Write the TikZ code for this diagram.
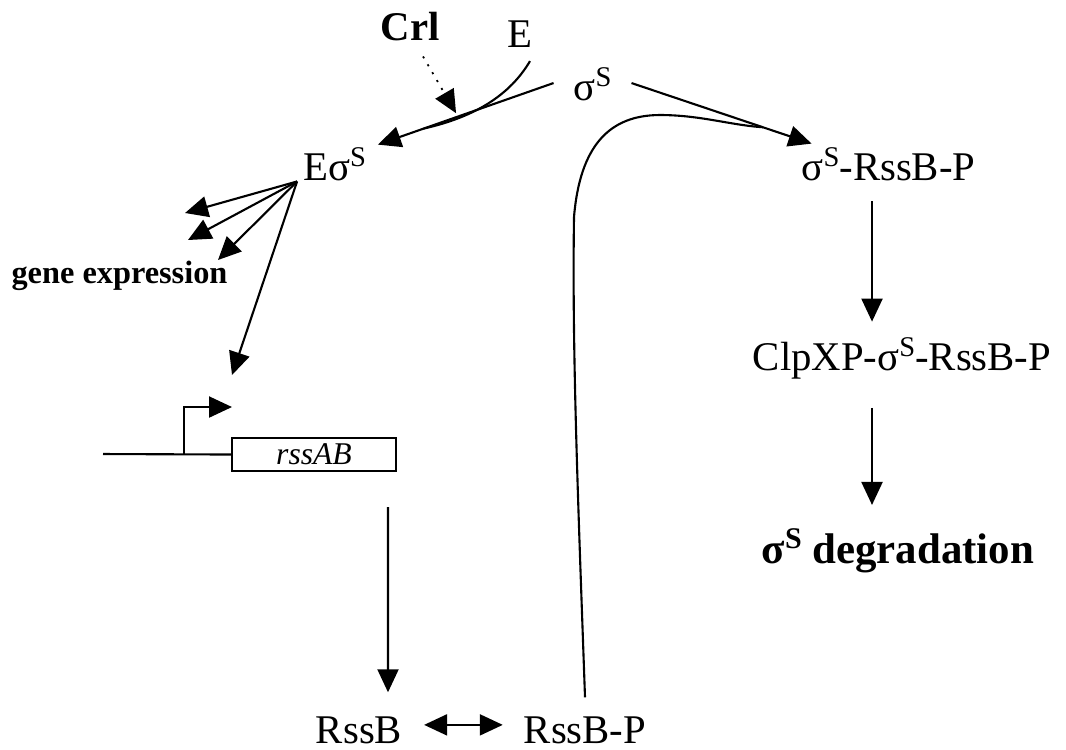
\documentclass[tikz,border=0pt]{standalone}
\usepackage{fontspec}
\setmainfont{Liberation Serif}
\usepackage{tikz}
\usetikzlibrary{arrows.meta}

\newcommand{\sigS}{σ\raisebox{0.33em}{\scalebox{0.7}{S}}}

\begin{document}
\begin{tikzpicture}[
    txt/.style={inner sep=0pt, anchor=base, font=\fontsize{11.6}{14}\selectfont},
    arr/.style={-{Triangle[length=0.23cm,width=0.21cm]}, line width=0.6pt},
    line width=0.6pt]
    \useasboundingbox (0,0) rectangle (10.66,-7.49);
    % Labels
    \node[txt, font=\fontsize{11.6}{14}\selectfont\bfseries] (crl) at (4.10,-0.40) {Crl};
    \node[txt] (enz) at (5.20,-0.47) {E};
    \node[txt] (sig) at (5.925,-1.00) {\sigS};
    \node[txt] (esig) at (3.345,-1.80) {E\sigS};
    \node[txt] (sigp) at (8.885,-1.80) {\sigS-RssB-P};
    \node[txt, font=\fontsize{9.2}{11}\selectfont\bfseries] (gene) at (1.195,-2.83) {gene expression};
    \node[txt] (clpxp) at (9.02,-3.70) {ClpXP-\sigS-RssB-P};
    \node[txt, font=\fontsize{12.2}{14}\selectfont\bfseries] (degr) at (8.98,-5.63) {\sigS{} degradation};
    \node[txt] (rssb) at (3.59,-7.43) {RssB};
    \node[txt] (rssbp) at (5.85,-7.43) {RssB-P};
    % Gene
    \node[draw, line width=0.6pt, minimum width=1.64cm, minimum height=0.33cm, inner sep=0pt,
          font=\fontsize{9}{11}\selectfont\itshape] (rssab) at (3.14,-4.545) {rssAB};
    \coordinate (dnaL) at (1.03,-4.54);
    \coordinate (tss) at (1.84,-4.54);
    \coordinate (tssarr) at (2.32,-4.07);
    \draw (dnaL) -- (rssab.west);
    \draw[arr] (tss) |- (tssarr);
    % Holoenzyme formation
    \draw[arr] ([xshift=-0.19cm,yshift=0.01cm]sig.west)
        -- coordinate[pos=0.555] (crltip) coordinate[pos=0.74] (merge)
        ([xshift=0.11cm,yshift=0.02cm]esig.north east);
    \draw ([xshift=0.10cm,yshift=-0.13cm]enz.south) .. controls (5.10,-0.95) and (4.75,-1.17) .. (merge);
    \draw[arr, dotted, line width=0.5pt] ([xshift=0.13cm,yshift=-0.15cm]crl.south) -- ([yshift=0.04cm]crltip);
    % Fan of targets
    \coordinate (g1) at (1.85,-2.13);
    \coordinate (g2) at (1.88,-2.40);
    \coordinate (g3) at (2.18,-2.60);
    \coordinate (prom) at (2.32,-3.75);
    \foreach \t in {g1,g2,g3,prom}
        \draw[arr] ([xshift=-0.05cm]esig.south west) -- (\t);
    % RssB branch
    \draw[arr] ([xshift=0.74cm,yshift=-0.35cm]rssab.south) -- ([xshift=0.29cm,yshift=0.23cm]rssb.north);
    \draw[{Triangle[length=0.23cm,width=0.21cm]}-{Triangle[length=0.23cm,width=0.21cm]}]
        ([xshift=0.21cm,yshift=0.05cm]rssb.east) -- ([xshift=-0.20cm,yshift=0.05cm]rssbp.west);
    % Degradation
    \draw[arr] ([xshift=0.19cm,yshift=0.01cm]sig.east)
        -- coordinate[pos=0.73] (join)
        ([xshift=0.11cm,yshift=0.03cm]sigp.north west);
    \draw ([yshift=0.18cm]rssbp.north) .. controls (5.78,-5.0) and (5.72,-3.5) .. (5.74,-2.17)
        .. controls (5.80,-1.45) and (6.10,-1.15) .. (6.60,-1.15)
        .. controls (7.0,-1.15) and (7.3,-1.25) .. (join);
    \draw[arr] ([xshift=-0.165cm,yshift=-0.20cm]sigp.south) -- ([xshift=-0.30cm,yshift=0.15cm]clpxp.north);
    \draw[arr] ([xshift=-0.30cm,yshift=-0.28cm]clpxp.south) -- ([xshift=-0.26cm,yshift=0.23cm]degr.north);
\end{tikzpicture}
\end{document}
